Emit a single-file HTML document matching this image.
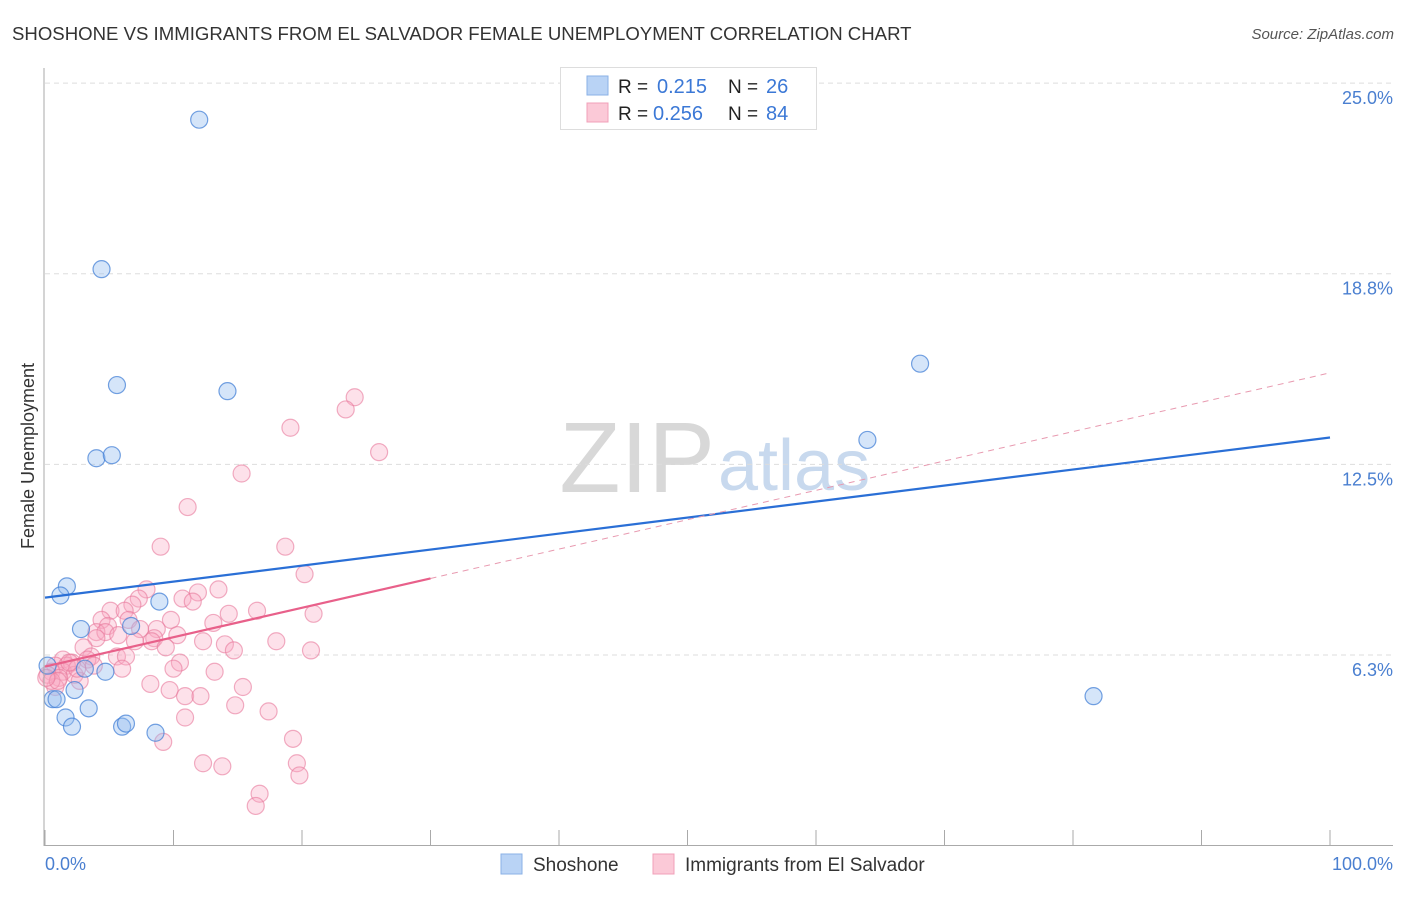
<!DOCTYPE html>
<html><head><meta charset="utf-8"><style>
body{margin:0;background:#fff;font-family:"Liberation Sans",sans-serif;}
svg text{font-family:"Liberation Sans",sans-serif;}
</style></head><body>
<svg id="chart" width="1406" height="892" xmlns="http://www.w3.org/2000/svg">
<text x="12" y="40" font-size="18.6" fill="#333">SHOSHONE VS IMMIGRANTS FROM EL SALVADOR FEMALE UNEMPLOYMENT CORRELATION CHART</text>
<text x="1394" y="39" font-size="15" fill="#555" font-style="italic" text-anchor="end">Source: ZipAtlas.com</text>
<text x="715" y="492" font-size="100" fill="#d8d8d8" font-family="Liberation Serif" text-anchor="end">ZIP</text>
<text x="718" y="490" font-size="72" fill="#c8d9ee">atlas</text>
<g id="grid"></g><g id="pts"></g><g id="lines"></g>
<line x1="44" y1="68" x2="44" y2="846" stroke="#aaa"/>
<line x1="44" y1="845.5" x2="1393" y2="845.5" stroke="#aaa"/>
<text transform="translate(34,456) rotate(-90)" font-size="18" fill="#333" text-anchor="middle">Female Unemployment</text>
<text x="45" y="870" font-size="18" fill="#4a7fd0">0.0%</text>
<text x="1393" y="870" font-size="18" fill="#4a7fd0" text-anchor="end">100.0%</text>
<g>
<rect x="560.5" y="67.5" width="256" height="62" fill="#fff" stroke="#ddd"/>
<rect x="587" y="76" width="21" height="19" fill="#b9d3f5" stroke="#8ab0e6"/>
<rect x="587" y="103" width="21" height="19" fill="#fbc9d7" stroke="#f0a0b8"/>
<text x="618" y="93" font-size="19" fill="#222">R = </text><text x="657" y="93" font-size="20" fill="#3b78d6">0.215</text>
<text x="728" y="93" font-size="19" fill="#222">N = </text><text x="766" y="93" font-size="20" fill="#3b78d6">26</text>
<text x="618" y="120" font-size="19" fill="#222">R = </text><text x="653" y="120" font-size="20" fill="#3b78d6">0.256</text>
<text x="728" y="120" font-size="19" fill="#222">N = </text><text x="766" y="120" font-size="20" fill="#3b78d6">84</text>
</g>
<g>
<rect x="501" y="854" width="21" height="20" fill="#b9d3f5" stroke="#8ab0e6"/>
<text x="533" y="871" font-size="19" fill="#333">Shoshone</text>
<rect x="653" y="854" width="21" height="20" fill="#fbc9d7" stroke="#f0a0b8"/>
<text x="685" y="871" font-size="19" fill="#333">Immigrants from El Salvador</text>
</g>
</svg>
<script>
const yTicks=[25.0,18.75,12.5,6.25];
const yTickLabels=["25.0%","18.8%","12.5%","6.3%"];
const xTicks=[0,10,20,30,40,50,60,70,80,90,100];
const blueX=[12.0,4.4,5.6,14.2,4.0,5.2,1.7,1.2,8.9,2.8,6.7,4.7,3.1,0.2,0.6,0.9,2.3,3.4,1.6,2.1,6.0,6.3,8.6,68.1,64.0,81.6];
const blueY=[23.8,18.9,15.1,14.9,12.7,12.8,8.5,8.2,8.0,7.1,7.2,5.7,5.8,5.9,4.8,4.8,5.1,4.5,4.2,3.9,3.9,4.0,3.7,15.8,13.3,4.9];
const pinkX=[24.1,23.4,19.1,26.0,15.3,11.1,9.0,18.7,20.2,7.9,13.5,11.9,10.7,11.5,7.3,6.8,5.1,6.2,16.5,20.9,14.3,4.4,6.5,9.8,13.1,4.9,7.4,8.7,4.0,4.7,5.7,10.3,8.5,4.0,7.0,18.0,12.3,14.0,8.3,3.0,14.7,9.4,20.7,5.6,3.6,6.3,1.4,3.3,10.5,2.1,0.8,1.7,6.0,13.2,10.0,0.5,1.4,2.3,1.1,2.7,8.2,15.4,0.8,9.7,10.9,12.1,14.8,17.4,10.9,9.2,19.3,12.3,13.8,19.6,19.8,16.7,16.4,0.2,0.5,1.0,0.1,2.5,1.9,3.8];
const pinkY=[14.7,14.3,13.7,12.9,12.2,11.1,9.8,9.8,8.9,8.4,8.4,8.3,8.1,8.0,8.1,7.9,7.7,7.7,7.7,7.6,7.6,7.4,7.4,7.4,7.3,7.2,7.1,7.1,7.0,7.0,6.9,6.9,6.8,6.8,6.7,6.7,6.7,6.6,6.7,6.5,6.4,6.5,6.4,6.2,6.2,6.2,6.1,6.1,6.0,6.0,5.9,5.9,5.8,5.7,5.8,5.7,5.7,5.6,5.5,5.4,5.3,5.2,5.2,5.1,4.9,4.9,4.6,4.4,4.2,3.4,3.5,2.7,2.6,2.7,2.3,1.7,1.3,5.6,5.4,5.4,5.5,5.8,6.0,5.9];
const blueTrend=[8.13,0.0525];
const pinkTrend=[5.87,0.0963];
const sx=v=>45+v*12.85, sy=v=>845.6-v*30.5;
const NS="http://www.w3.org/2000/svg";
function mk(t,a,p){const e=document.createElementNS(NS,t);for(const k in a)e.setAttribute(k,a[k]);p.appendChild(e);return e;}
const grid=document.getElementById('grid');
yTicks.forEach((t,i)=>{
 const l=mk('line',{x1:45,x2:1393,y1:sy(t),y2:sy(t),stroke:'#ddd','stroke-dasharray':'5,4'},grid);
 
 
 const tx=mk('text',{x:1393,y:sy(t)+21,'font-size':18,fill:'#4a7fd0','text-anchor':'end'},grid);
 tx.textContent=yTickLabels[i];
 
 
});
xTicks.forEach(t=>{
 const l=mk('line',{x1:sx(t),x2:sx(t),y1:830,y2:846,stroke:'#aaa'},grid);
 
 
});
const pts=document.getElementById('pts');
pinkX.forEach((x,i)=>{
 const c=mk('circle',{cx:sx(x),cy:sy(pinkY[i]),r:8.5,fill:'rgba(248,170,195,0.35)',stroke:'rgba(232,120,155,0.6)','stroke-width':1.2},pts);
 
 
});
blueX.forEach((x,i)=>{
 const c=mk('circle',{cx:sx(x),cy:sy(blueY[i]),r:8.5,fill:'rgba(150,190,240,0.4)',stroke:'rgba(70,130,215,0.75)','stroke-width':1.2},pts);
 
 
});
const lines=document.getElementById('lines');
const bl=mk('line',{x1:sx(0),y1:sy(blueTrend[0]),x2:sx(100),y2:sy(blueTrend[0]+100*blueTrend[1]),stroke:'#2a6fd6','stroke-width':2.2},lines);


const pd=mk('line',{x1:sx(30),y1:sy(pinkTrend[0]+30*pinkTrend[1]),x2:sx(100),y2:sy(pinkTrend[0]+100*pinkTrend[1]),stroke:'#e89ab0','stroke-width':1,'stroke-dasharray':'6,5'},lines);


const ps=mk('line',{x1:sx(0),y1:sy(pinkTrend[0]),x2:sx(30),y2:sy(pinkTrend[0]+30*pinkTrend[1]),stroke:'#e8608a','stroke-width':2.2},lines);


</script>
</body></html>
